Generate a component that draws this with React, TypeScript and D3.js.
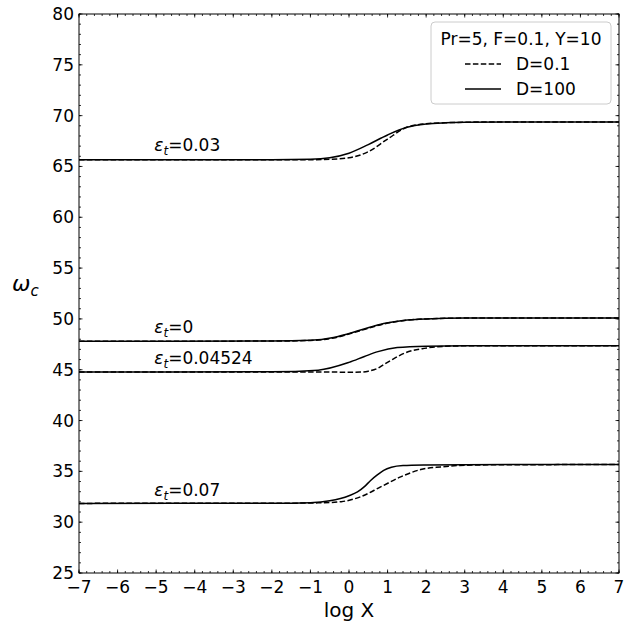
import React from "react";
import * as d3 from "d3";

const W = 633;
const H = 624;
const M = { left: 79, right: 14, top: 14, bottom: 51 };

const xTicks = [-7, -6, -5, -4, -3, -2, -1, 0, 1, 2, 3, 4, 5, 6, 7];
const yTicks = [25, 30, 35, 40, 45, 50, 55, 60, 65, 70, 75, 80];

type P = [number, number];

// eps_t = 0.03
const e003Solid: P[] = [[-7, 65.65], [-2, 65.66], [-1, 65.7], [-0.5, 65.85], [0, 66.3], [0.5, 67.15], [1, 68.1], [1.5, 68.85], [2, 69.18], [2.5, 69.3], [3, 69.35], [4, 69.38], [7, 69.38]];
const e003Dash: P[] = [[-7, 65.65], [-1, 65.66], [-0.5, 65.7], [0, 65.85], [0.5, 66.45], [1, 67.7], [1.5, 68.85], [2, 69.2], [2.5, 69.3], [3, 69.35], [4, 69.38], [7, 69.38]];
// eps_t = 0
const e0Solid: P[] = [[-7, 47.8], [-2, 47.82], [-1, 47.9], [-0.4, 48.18], [0.3, 48.9], [0.9, 49.55], [1.4, 49.85], [2, 50.0], [3, 50.08], [7, 50.1]];
const e0Dash: P[] = [[-7, 47.8], [-2, 47.82], [-1, 47.88], [-0.4, 48.12], [0.3, 48.85], [0.9, 49.5], [1.4, 49.83], [2, 50.0], [3, 50.08], [7, 50.1]];
// eps_t = 0.04524
const e045Solid: P[] = [[-7, 44.78], [-2, 44.8], [-0.8, 44.96], [0, 45.72], [0.4, 46.3], [0.75, 46.78], [1.25, 47.18], [2, 47.32], [3, 47.36], [7, 47.37]];
const e045Dash: P[] = [[-7, 44.78], [-1, 44.78], [0, 44.76], [0.3, 44.77], [0.5, 44.86], [0.75, 45.15], [0.9, 45.5], [1.1, 45.95], [1.45, 46.65], [1.95, 47.1], [2.3, 47.26], [3, 47.35], [7, 47.37]];
// eps_t = 0.07
const e007Solid: P[] = [[-7, 31.85], [-2, 31.86], [-1, 31.92], [-0.5, 32.1], [0, 32.6], [0.22, 32.98], [0.4, 33.5], [0.56, 34.1], [0.75, 34.7], [0.9, 35.1], [1.1, 35.4], [1.4, 35.57], [2, 35.63], [3, 35.66], [7, 35.67]];
const e007Dash: P[] = [[-7, 31.85], [-2, 31.86], [-0.8, 31.9], [-0.2, 32.02], [0.3, 32.5], [0.82, 33.47], [1.34, 34.46], [1.86, 35.18], [2.38, 35.44], [3, 35.6], [4, 35.65], [7, 35.67]];

const solidSeries = [e003Solid, e0Solid, e045Solid, e007Solid];
const dashSeries = [e003Dash, e0Dash, e045Dash, e007Dash];

const labelTexts = ["0.03", "0", "0.04524", "0.07"];
const labelPos: P[] = [[-5.05, 66.5], [-5.05, 48.6], [-5.05, 45.55], [-5.05, 32.6]];

const legendTitle = "Pr=5, F=0.1, Y=10";
const legendItems = ["D=0.1", "D=100"];

export default function App() {
  const x = d3.scaleLinear().domain([-7, 7]).range([M.left, W - M.right]);
  const y = d3.scaleLinear().domain([25, 80]).range([H - M.bottom, M.top]);
  const line = d3
    .line<P>()
    .x((d) => x(d[0]))
    .y((d) => y(d[1]))
    .curve(d3.curveMonotoneX);

  const xMinor: number[] = [];
  for (let v = -7; v <= 7.0001; v += 0.2) xMinor.push(+v.toFixed(2));
  const yMinor: number[] = [];
  for (let v = 25; v <= 80; v += 1) yMinor.push(v);

  const font = "DejaVu Sans, sans-serif";
  const x0 = M.left, x1 = W - M.right, y0 = H - M.bottom, y1 = M.top;
  const fs = 17;

  return (
    <svg width={W} height={H} style={{ position: "absolute", left: 0, top: 0, background: "#fff" }} fontFamily={font}>
      <rect x={0} y={0} width={W} height={H} fill="#fff" />
      {dashSeries.map((s, i) => (
        <path key={"d" + i} d={line(s) || ""} fill="none" stroke="#000" strokeWidth={1.5} strokeDasharray="5.5,2.4" />
      ))}
      {solidSeries.map((s, i) => (
        <path key={"s" + i} d={line(s) || ""} fill="none" stroke="#000" strokeWidth={1.5} />
      ))}
      {labelTexts.map((t, i) => (
        <text key={"l" + i} x={x(labelPos[i][0])} y={y(labelPos[i][1])} fontSize={fs} fill="#000">
          <tspan fontStyle="italic">ε</tspan>
          <tspan fontStyle="italic" fontSize={12} dy={4}>t</tspan>
          <tspan dy={-4}>={t}</tspan>
        </text>
      ))}
      {xMinor.map((v, i) => (
        <g key={"xm" + i}>
          <line x1={x(v)} x2={x(v)} y1={y0} y2={y0 - 2} stroke="#000" strokeWidth={0.8} />
          <line x1={x(v)} x2={x(v)} y1={y1} y2={y1 + 2} stroke="#000" strokeWidth={0.8} />
        </g>
      ))}
      {yMinor.map((v, i) => (
        <g key={"ym" + i}>
          <line x1={x0} x2={x0 + 2} y1={y(v)} y2={y(v)} stroke="#000" strokeWidth={0.8} />
          <line x1={x1} x2={x1 - 2} y1={y(v)} y2={y(v)} stroke="#000" strokeWidth={0.8} />
        </g>
      ))}
      {xTicks.map((v) => (
        <g key={"xt" + v}>
          <line x1={x(v)} x2={x(v)} y1={y0} y2={y0 - 3.5} stroke="#000" strokeWidth={0.8} />
          <line x1={x(v)} x2={x(v)} y1={y1} y2={y1 + 3.5} stroke="#000" strokeWidth={0.8} />
          <text x={x(v)} y={y0 + 20} fontSize={fs} textAnchor="middle" fill="#000">
            {v < 0 ? "\u2212" + Math.abs(v) : String(v)}
          </text>
        </g>
      ))}
      {yTicks.map((v) => (
        <g key={"yt" + v}>
          <line x1={x0} x2={x0 + 3.5} y1={y(v)} y2={y(v)} stroke="#000" strokeWidth={0.8} />
          <line x1={x1} x2={x1 - 3.5} y1={y(v)} y2={y(v)} stroke="#000" strokeWidth={0.8} />
          <text x={x0 - 5} y={y(v) + 6} fontSize={fs} textAnchor="end" fill="#000">{v}</text>
        </g>
      ))}
      <rect x={x0} y={y1} width={x1 - x0} height={y0 - y1} fill="none" stroke="#000" strokeWidth={1} />
      <text x={(x0 + x1) / 2} y={617} fontSize={20} textAnchor="middle" fill="#000">log X</text>
      <text x={12} y={291} fontSize={22} fill="#000">
        <tspan fontStyle="italic">ω</tspan>
        <tspan fontStyle="italic" fontSize={15} dy={5}>c</tspan>
      </text>
      <rect x={431} y={22} width={180} height={82} rx={4} fill="#fff" fillOpacity={0.8} stroke="#ccc" strokeWidth={1} />
      <text x={521} y={45} fontSize={fs} textAnchor="middle" fill="#000">{legendTitle}</text>
      <line x1={465} x2={501} y1={64} y2={64} stroke="#000" strokeWidth={1.5} strokeDasharray="5.5,2.4" />
      <text x={516} y={70} fontSize={fs} fill="#000">{legendItems[0]}</text>
      <line x1={465} x2={501} y1={89} y2={89} stroke="#000" strokeWidth={1.5} />
      <text x={516} y={95} fontSize={fs} fill="#000">{legendItems[1]}</text>
    </svg>
  );
}
